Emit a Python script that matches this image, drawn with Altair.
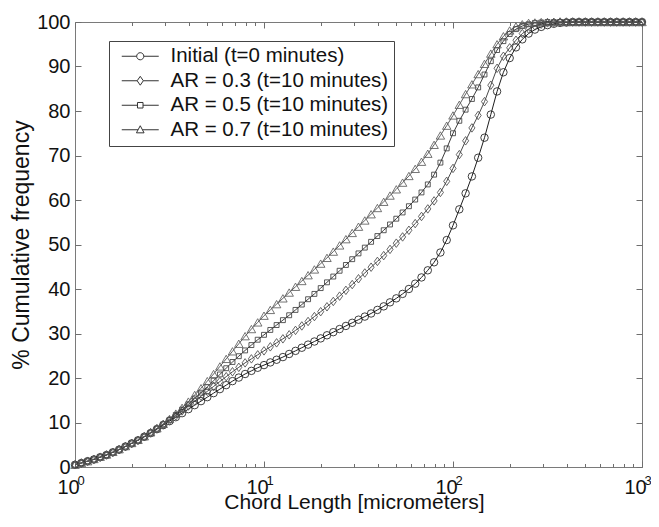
import altair as alt
import pandas as pd

# ---------------- data ----------------
chord = [1.000, 1.080, 1.166, 1.259, 1.359, 1.468, 1.585, 1.711, 1.848, 1.995,
         2.154, 2.326, 2.512, 2.712, 2.929, 3.162, 3.415, 3.687, 3.981, 4.299,
         4.642, 5.012, 5.412, 5.843, 6.310, 6.813, 7.356, 7.943, 8.577, 9.261,
         10.00, 10.80, 11.66, 12.59, 13.59, 14.68, 15.85, 17.11, 18.48, 19.95,
         21.54, 23.26, 25.12, 27.12, 29.29, 31.62, 34.15, 36.87, 39.81, 42.99,
         46.42, 50.12, 54.12, 58.43, 63.10, 68.13, 73.56, 79.43, 85.77, 92.61,
         100.0, 108.0, 116.6, 125.9, 135.9, 146.8, 158.5, 171.1, 184.8, 199.5,
         215.4, 232.6, 251.2, 271.2, 292.9, 316.2, 341.5, 368.7, 398.1, 429.9,
         464.2, 501.2, 541.2, 584.3, 631.0, 681.3, 735.6, 794.3, 857.7, 926.1,
         1000.0]

initial = [0.5, 0.9, 1.3, 1.7, 2.2, 2.7, 3.3, 3.9, 4.6, 5.3,
           6.0, 6.8, 7.6, 8.5, 9.4, 10.3, 11.2, 12.1, 13.0, 13.9,
           14.8, 15.7, 16.6, 17.5, 18.4, 19.3, 20.1, 20.9, 21.6, 22.3,
           22.9, 23.5, 24.1, 24.7, 25.4, 26.1, 26.8, 27.5, 28.2, 28.9,
           29.6, 30.3, 31.0, 31.7, 32.4, 33.1, 33.8, 34.5, 35.3, 36.1,
           37.0, 37.9, 38.9, 40.0, 41.2, 42.6, 44.2, 46.0, 48.2, 51.0,
           54.3, 57.9, 61.5, 65.3, 69.5, 74.0, 79.2, 84.4, 88.7, 91.9,
           94.3, 96.1, 97.4, 98.3, 98.9, 99.3, 99.6, 99.8, 99.9, 100.0,
           100.0, 100.0, 100.0, 100.0, 100.0, 100.0, 100.0, 100.0, 100.0, 100.0,
           100.0]

ar03 = [0.5, 0.9, 1.3, 1.7, 2.2, 2.7, 3.3, 3.9, 4.6, 5.3,
        6.0, 6.8, 7.7, 8.6, 9.5, 10.5, 11.5, 12.6, 13.7, 14.8,
        15.9, 17.0, 18.1, 19.2, 20.3, 21.4, 22.4, 23.4, 24.3, 25.2,
        26.1, 27.0, 27.9, 28.8, 29.7, 30.7, 31.7, 32.7, 33.8, 34.9,
        36.0, 37.2, 38.4, 39.7, 41.0, 42.3, 43.6, 44.9, 46.2, 47.5,
        48.9, 50.3, 51.7, 53.2, 54.7, 56.3, 58.0, 59.8, 61.7, 64.2,
        67.1, 70.2, 73.3, 76.2, 79.0, 82.1, 85.8, 89.6, 92.3, 94.2,
        95.9, 97.4, 98.4, 99.1, 99.5, 99.8, 99.9, 100.0, 100.0, 100.0,
        100.0, 100.0, 100.0, 100.0, 100.0, 100.0, 100.0, 100.0, 100.0, 100.0,
        100.0]

ar05 = [0.5, 0.9, 1.3, 1.7, 2.2, 2.7, 3.3, 3.9, 4.6, 5.3,
        6.0, 6.8, 7.7, 8.6, 9.6, 10.6, 11.7, 12.9, 14.1, 15.4,
        16.7, 18.0, 19.4, 20.8, 22.2, 23.6, 24.9, 26.2, 27.4, 28.6,
        29.7, 30.8, 31.9, 33.0, 34.1, 35.3, 36.5, 37.7, 38.9, 40.2,
        41.5, 42.8, 44.1, 45.4, 46.7, 48.0, 49.3, 50.6, 51.9, 53.2,
        54.5, 55.8, 57.2, 58.6, 60.1, 61.7, 63.5, 65.7, 68.4, 71.6,
        75.0, 77.8, 80.3, 82.7, 85.3, 88.2, 91.2, 93.7, 95.7, 97.3,
        98.4, 99.1, 99.5, 99.8, 99.9, 100.0, 100.0, 100.0, 100.0, 100.0,
        100.0, 100.0, 100.0, 100.0, 100.0, 100.0, 100.0, 100.0, 100.0, 100.0,
        100.0]

ar07 = [0.5, 0.9, 1.3, 1.8, 2.3, 2.8, 3.4, 4.0, 4.7, 5.4,
        6.1, 6.9, 7.8, 8.7, 9.7, 10.8, 12.0, 13.3, 14.7, 16.2,
        17.7, 19.3, 20.9, 22.6, 24.3, 26.0, 27.7, 29.4, 31.0, 32.5,
        34.0, 35.3, 36.6, 37.9, 39.2, 40.5, 41.8, 43.1, 44.4, 45.7,
        47.0, 48.4, 49.8, 51.2, 52.6, 54.0, 55.4, 56.8, 58.2, 59.6,
        61.0, 62.4, 63.9, 65.4, 67.0, 68.6, 70.4, 72.4, 74.5, 76.7,
        79.0, 81.4, 83.8, 86.0, 88.3, 90.6, 92.9, 95.0, 96.8, 98.1,
        99.0, 99.5, 99.8, 99.9, 100.0, 100.0, 100.0, 100.0, 100.0, 100.0,
        100.0, 100.0, 100.0, 100.0, 100.0, 100.0, 100.0, 100.0, 100.0, 100.0,
        100.0]

series_names = ["Initial (t=0 minutes)", "AR = 0.3 (t=10 minutes)",
                "AR = 0.5 (t=10 minutes)", "AR = 0.7 (t=10 minutes)"]
series_values = [initial, ar03, ar05, ar07]

x_major = [1, 10, 100, 1000]
x_minor = [2, 3, 4, 5, 6, 7, 8, 9, 20, 30, 40, 50, 60, 70, 80, 90,
           200, 300, 400, 500, 600, 700, 800, 900]
y_ticks = [0, 10, 20, 30, 40, 50, 60, 70, 80, 90, 100]

rows = []
for name, vals in zip(series_names, series_values):
    for cx, cy in zip(chord, vals):
        rows.append({"chord": cx, "freq": cy, "series": name})
df = pd.DataFrame(rows)

# ---------------- styling ----------------
W, H = 567, 445
FONT = "Liberation Sans"
TICK_COLOR = "#6e6e6e"

line_colors = ["#1e1e1e", "#4a4a4a", "#3c3c3c", "#5c5c5c"]
marker_shapes = ["circle", "M0,-1L0.72,0L0,1L-0.72,0Z", "square", "triangle-up"]
marker_sizes = [56, 72, 24, 72]

legend_paths = [
    "M-3,0H-0.58M0.58,0H3M0.58,0A0.58,0.58,0,1,1,-0.58,0A0.58,0.58,0,1,1,0.58,0Z",
    "M-3,0H-0.5M0.5,0H3M0,-0.72L0.5,0L0,0.72L-0.5,0Z",
    "M-3,0H-0.45M0.45,0H3M-0.45,-0.45H0.45V0.45H-0.45Z",
    "M-3,0H-0.35M0.35,0H3M0,-0.65L0.62,0.5L-0.62,0.5Z",
]

xscale = alt.Scale(type="log", domain=[1, 1000], nice=False)
yscale = alt.Scale(domain=[0, 100], nice=False)

NB = "\u00a0"


def tick_axis(orient, values, size):
    off = -H if orient in ("top", "bottom") else -W
    return alt.Axis(orient=orient, offset=off, values=values, tickSize=size,
                    tickColor=TICK_COLOR, tickWidth=1, labels=False,
                    domain=False, grid=False, title=None)


# "10" part of the labels: shifted 7px left (translate moves x and y)
x_label_axis = alt.Axis(orient="bottom", values=x_major, labelExpr="'10'",
                        translate=-6.5, labelFontSize=20, labelPadding=17,
                        labelFlush=False, labelOverlap=False, ticks=False,
                        domain=False, grid=False,
                        title="Chord Length [micrometers]", titleFontSize=21,
                        titleBaseline="top", titleY=31.5, titleX=286)
# exponent part of the labels: shifted right and down
x_exp_axis = alt.Axis(orient="bottom", values=x_major,
                      labelExpr="format(log(datum.value)/LN10, '.0f')",
                      translate=6, labelFontSize=13, labelPadding=1.5,
                      labelFlush=False, labelOverlap=False, ticks=False,
                      domain=False, grid=False, title=None)
y_label_axis = alt.Axis(orient="left", values=y_ticks, labelFontSize=20,
                        labelPadding=5, labelFlush=False, ticks=False,
                        domain=False, grid=False,
                        title="% Cumulative frequency", titleFontSize=23,
                        titlePadding=3)

base = alt.Chart(df)

line_x_axes = [x_label_axis, None, None, None]
line_y_axes = [y_label_axis, None, None, None]
line_layers = []
for i, name in enumerate(series_names):
    line_layers.append(
        base.transform_filter(alt.datum.series == name).mark_line(
            strokeWidth=1, color=line_colors[i]
        ).encode(
            x=alt.X("chord:Q", scale=xscale, axis=line_x_axes[i]),
            y=alt.Y("freq:Q", scale=yscale, axis=line_y_axes[i]),
        )
    )

legend_layer = base.mark_point(
    filled=False, color="#333333", strokeWidth=1, opacity=0
).encode(
    x=alt.X("chord:Q", scale=xscale, axis=x_exp_axis),
    y=alt.Y("freq:Q", scale=yscale, axis=tick_axis("right", y_ticks, 6)),
    shape=alt.Shape("series:N",
                    scale=alt.Scale(domain=series_names, range=legend_paths),
                    legend=alt.Legend(
                        orient="none", legendX=34, legendY=19, title=None,
                        labelFont=FONT, labelFontSize=20.5, labelColor="#111111",
                        labelLimit=400,
                        labelExpr="datum.label + '" + NB + NB + "'",
                        symbolSize=152, symbolStrokeWidth=1,
                        symbolStrokeColor="#333333",
                        symbolFillColor="transparent", symbolOpacity=1,
                        symbolOffset=16, labelOffset=20,
                        padding=5, rowPadding=3.5,
                        strokeColor="#444444", fillColor="white",
                    )),
)

x_axes_for_points = [tick_axis("top", x_major, 6), tick_axis("top", x_minor, 3.5),
                     tick_axis("bottom", x_major, 6), tick_axis("bottom", x_minor, 3.5)]
y_axes_for_points = [tick_axis("left", y_ticks, 6), None, None, None]

point_layers = []
for i, name in enumerate(series_names):
    point_layers.append(
        base.transform_filter(alt.datum.series == name).mark_point(
            shape=marker_shapes[i], size=marker_sizes[i], filled=False,
            color=line_colors[i], strokeWidth=0.85, opacity=1
        ).encode(
            x=alt.X("chord:Q", scale=xscale, axis=x_axes_for_points[i]),
            y=alt.Y("freq:Q", scale=yscale, axis=y_axes_for_points[i]),
        )
    )

chart = alt.layer(*line_layers, legend_layer, *point_layers).resolve_axis(
    x="independent", y="independent"
).properties(
    width=W, height=H,
    autosize=alt.AutoSizeParams(type="none"),
    padding={"left": 67, "top": 14, "right": 9, "bottom": 46},
).configure_view(
    stroke="#7a7a7a", strokeWidth=1
).configure_axis(
    labelFont=FONT, titleFont=FONT, labelColor="#111111",
    titleColor="#111111", titleFontWeight="normal"
)

chart.save("out.html", embed_options={"renderer": "svg", "actions": False})
